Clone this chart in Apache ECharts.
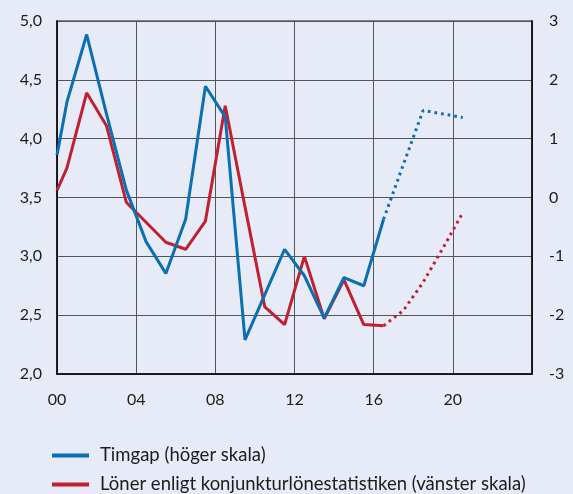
<!DOCTYPE html>
<html>
<head>
<meta charset="utf-8">
<script src="https://cdn.jsdelivr.net/npm/echarts@6/dist/echarts.min.js"></script>
<style>
html,body{margin:0;padding:0;background:#e6ebf7;}
#c{width:573px;height:494px;}
</style>
</head>
<body>
<div id="c"></div>
<script>
// Years (x positions, 0 = 2000, points at mid-year)
const years = [0, 0.5, 1.5, 2.5, 3.5, 4.5, 5.5, 6.5, 7.5, 8.5, 9.5, 10.5, 11.5, 12.5, 13.5, 14.5, 15.5, 16.5];
const forecastYears = [16.5, 17.5, 18.5, 19.5, 20.5];
// Timgap (right scale)
const timgap = [0.72, 1.62, 2.77, 1.42, 0.13, -0.75, -1.29, -0.37, 1.89, 1.37, -2.42, -1.65, -0.88, -1.33, -2.05, -1.36, -1.50, -0.37];
const timgapForecast = [-0.37, 0.56, 1.48, 1.42, 1.36];
// Löner enligt konjunkturlönestatistiken (left scale)
const loner = [3.56, 3.75, 4.39, 4.11, 3.46, 3.29, 3.12, 3.06, 3.30, 4.28, 3.42, 2.57, 2.42, 3.00, 2.47, 2.80, 2.42, 2.41];
const lonerForecast = [2.41, 2.54, 2.78, 3.07, 3.37];
const seriesNames = ['Timgap (höger skala)', 'Löner enligt konjunkturlönestatistiken (vänster skala)'];

const BLUE = '#0b6fb1';
const RED = '#c0202f';
const FONT = 'Lato';
const zip = (xs, ys) => xs.map((x, i) => [x, ys[i]]);

const legendText = {fontFamily: FONT, fontSize: 18.5, color: '#1c1c1c', padding: [0, 0, 0, 6]};
const makeLegend = (name, top) => ({
  orient: 'horizontal', left: 52, top: top, data: [name],
  icon: 'rect', itemWidth: 37, itemHeight: 4, itemGap: 0, padding: 0,
  textStyle: legendText
});

const chart = echarts.init(document.getElementById('c'), null, {renderer: 'canvas'});
chart.setOption({
  backgroundColor: '#e6ebf7',
  animation: false,
  textStyle: {fontFamily: FONT, color: '#1c1c1c'},
  grid: {left: 57, right: 41, top: 21, bottom: 120, show: true, borderColor: '#808080', borderWidth: 2},
  legend: [makeLegend(seriesNames[0], 446), makeLegend(seriesNames[1], 475)],
  xAxis: {
    type: 'value', min: 0, max: 24, interval: 4,
    axisLine: {show: true, onZero: false, lineStyle: {color: '#000', width: 1.5}},
    axisTick: {show: false},
    axisLabel: {fontFamily: FONT, fontSize: 16, color: '#1c1c1c', margin: 18,
      formatter: v => v >= 24 ? '' : String(v).padStart(2, '0')},
    splitLine: {show: true, lineStyle: {color: '#555', width: 1}}
  },
  yAxis: [
    {
      type: 'value', min: 2, max: 5, interval: 0.5, position: 'left',
      axisLine: {show: true, onZero: false, lineStyle: {color: '#000', width: 1.5}},
      axisTick: {show: false},
      axisLabel: {fontFamily: FONT, fontSize: 16, color: '#1c1c1c', margin: 15,
        formatter: v => v.toFixed(1).replace('.', ',')},
      splitLine: {show: true, lineStyle: {color: '#555', width: 1}}
    },
    {
      type: 'value', min: -3, max: 3, interval: 1, position: 'right',
      axisLine: {show: true, onZero: false, lineStyle: {color: '#000', width: 1.5}},
      axisTick: {show: false},
      axisLabel: {fontFamily: FONT, fontSize: 16, color: '#1c1c1c', margin: 17, align: 'left'},
      splitLine: {show: false}
    }
  ],
  series: [
    {
      name: seriesNames[0], type: 'line', yAxisIndex: 1, data: zip(years, timgap),
      showSymbol: false, color: BLUE, lineStyle: {color: BLUE, width: 3}, z: 4
    },
    {
      name: seriesNames[1], type: 'line', yAxisIndex: 0, data: zip(years, loner),
      showSymbol: false, color: RED, lineStyle: {color: RED, width: 3}, z: 3
    },
    {
      name: 'timgapForecast', type: 'line', yAxisIndex: 1, data: zip(forecastYears, timgapForecast),
      showSymbol: false, color: BLUE, lineStyle: {color: BLUE, width: 3, type: [2.7, 4], cap: 'butt'}, z: 4
    },
    {
      name: 'lonerForecast', type: 'line', yAxisIndex: 0, data: zip(forecastYears, lonerForecast),
      showSymbol: false, color: RED, lineStyle: {color: RED, width: 3, type: [2.7, 4], cap: 'butt'}, z: 3
    }
  ]
});
</script>
</body>
</html>
